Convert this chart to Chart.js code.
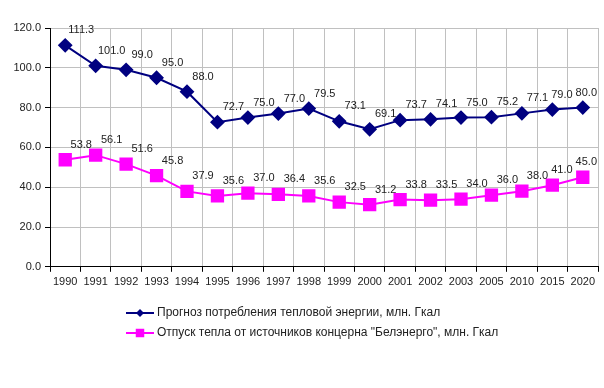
<!DOCTYPE html>
<html>
<head>
<meta charset="utf-8">
<script src="https://cdn.jsdelivr.net/npm/chart.js@4.4.0/dist/chart.umd.min.js"></script>
<style>
  html, body { margin: 0; padding: 0; background: #fff; overflow: hidden; }
  #wrap { width: 604px; height: 388px; }
  canvas { display: block; }
</style>
</head>
<body>
<div id="wrap"><canvas id="c"></canvas></div>
<script>
const years = ['1990', '1991', '1992', '1993', '1994', '1995', '1996', '1997', '1998',
  '1999', '2000', '2001', '2002', '2003', '2005', '2010', '2015', '2020'];
const forecast = [111.3, 101.0, 99.0, 95.0, 88.0, 72.7, 75.0, 77.0, 79.5,
  73.1, 69.1, 73.7, 74.1, 75.0, 75.2, 77.1, 79.0, 80.0];
const supply = [53.8, 56.1, 51.6, 45.8, 37.9, 35.6, 37.0, 36.4, 35.6,
  32.5, 31.2, 33.8, 33.5, 34.0, 36.0, 38.0, 41.0, 45.0];
const forecastLabel = 'Прогноз потребления тепловой энергии, млн. Гкал';
const supplyLabel = 'Отпуск тепла от источников концерна "Белэнерго", млн. Гкал';

const FONT = "'Liberation Sans', Arial, sans-serif";
const TEXT = '#222';

// value labels above-right of each point; placed right-to-left so they stay
// inside the plot and never run into the next label of the same series
const valueLabels = {
  id: 'valueLabels',
  afterDatasetsDraw(chart) {
    const { ctx, chartArea } = chart;
    ctx.save();
    ctx.font = `11px ${FONT}`;
    ctx.fillStyle = TEXT;
    ctx.textAlign = 'center';
    ctx.textBaseline = 'middle';
    chart.data.datasets.forEach((ds, i) => {
      const pts = chart.getDatasetMeta(i).data;
      let limit = chartArea.right - 1;
      for (let j = pts.length - 1; j >= 0; j--) {
        const pt = pts[j];
        const txt = ds.data[j].toFixed(1);
        const w = ctx.measureText(txt).width;
        const x = Math.min(pt.x + 16, limit - w / 2);
        ctx.fillText(txt, x, pt.y - 15);
        limit = x - w / 2 - 3;
      }
    });
    ctx.restore();
  },
};

// legend drawn below the plot: line with marker, then text
const lineLegend = {
  id: 'lineLegend',
  afterDraw(chart) {
    const { ctx } = chart;
    ctx.save();
    ctx.font = `12px ${FONT}`;
    ctx.textBaseline = 'middle';
    chart.data.datasets.forEach((ds, i) => {
      const y = 313 + i * 20;
      ctx.strokeStyle = ds.borderColor;
      ctx.lineWidth = 2;
      ctx.beginPath();
      ctx.moveTo(126, y);
      ctx.lineTo(154, y);
      ctx.stroke();
      ctx.fillStyle = ds.backgroundColor;
      Chart.helpers.drawPoint(ctx, { pointStyle: ds.pointStyle, radius: ds.pointRadius - 2, borderWidth: 0 }, 140, y);
      ctx.fillStyle = TEXT;
      ctx.textAlign = 'left';
      ctx.fillText(ds.label, 157, y);
    });
    ctx.restore();
  },
};

new Chart(document.getElementById('c'), {
  type: 'line',
  data: {
    labels: years,
    datasets: [
      {
        label: forecastLabel,
        data: forecast,
        borderColor: '#000080',
        backgroundColor: '#000080',
        borderWidth: 2,
        pointStyle: 'rectRot',
        pointRadius: 6,
        pointHoverRadius: 6,
        tension: 0,
      },
      {
        label: supplyLabel,
        data: supply,
        borderColor: '#ff00ff',
        backgroundColor: '#ff00ff',
        borderWidth: 2,
        pointStyle: 'rect',
        pointRadius: 8,
        pointHoverRadius: 8,
        tension: 0,
      },
    ],
  },
  options: {
    responsive: true,
    maintainAspectRatio: false,
    animation: false,
    layout: { autoPadding: false, padding: { top: 28, right: 6, bottom: 95, left: 10 } },
    plugins: {
      legend: { display: false },
      tooltip: { enabled: false },
    },
    scales: {
      x: {
        offset: true,
        grid: { offset: true, color: '#c0c0c0', tickColor: '#000', tickLength: 5 },
        border: { color: '#000', width: 1 },
        ticks: { color: TEXT, font: { family: FONT, size: 11 }, maxRotation: 0, autoSkip: false, padding: 4 },
        afterFit: (s) => { s.paddingLeft = 0; s.paddingRight = 0; },
      },
      y: {
        min: 0,
        max: 120,
        ticks: {
          stepSize: 20,
          color: TEXT,
          font: { family: FONT, size: 11 },
          padding: 4,
          callback: (v) => Number(v).toFixed(1),
        },
        grid: { color: '#c0c0c0', tickColor: '#000', tickLength: 5 },
        border: { color: '#000', width: 1 },
        afterFit: (s) => { s.width = 40; s.paddingTop = 0; s.paddingBottom = 0; },
      },
    },
  },
  plugins: [valueLabels, lineLegend],
});
</script>
</body>
</html>
